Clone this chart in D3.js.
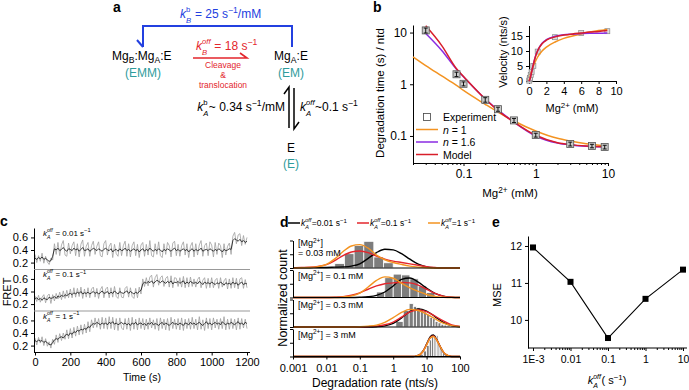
<!DOCTYPE html>
<html><head><meta charset="utf-8">
<script src="https://cdn.jsdelivr.net/npm/d3@7"></script>
<style>
body{margin:0;background:#fff;}
svg{font-family:"Liberation Sans",Arial,Helvetica,sans-serif;}
text{white-space:pre;}
</style></head><body>
<svg id="fig" width="689" height="390"></svg>
<script>
// ================= DATA =================
// Panel b: degradation time vs Mg
const bMg      = [0.03,0.08,0.1,0.2,0.3,0.5,1,3,6,9];
const bTime    = [11,1.56,1.02,0.5,0.33,0.2,0.104,0.07,0.064,0.061];
const bTimeErr = [1.2,0.15,0.09,0.05,0.03,0.018,0.009,0.006,0.005,0.005];
const bCurveMg = [0.02,0.03,0.05,0.08,0.1,0.2,0.3,0.5,1,2,3,5,10];
const bN1      = [3.4,2.3,1.45,0.95,0.76,0.41,0.29,0.195,0.125,0.09,0.08,0.071,0.064];
const bN16     = [null,9.6,4.5,1.95,1.4,0.52,0.32,0.185,0.1,0.073,0.067,0.063,0.061];
const bModel   = [null,13.5,5.6,2.0,1.42,0.52,0.31,0.185,0.103,0.074,0.068,0.064,0.062];
const bXTicks  = [0.1,1,10];
const bYTicks  = [0.1,1,10];
// inset
const insMg    = [0.03,0.08,0.1,0.2,0.3,0.5,1,3,6,9];
const insVel   = [0.1,0.6,1,2,3,5,9.8,14.6,16,16.6];
const insCurveMg = [0,0.1,0.25,0.5,0.75,1,1.5,2,3,4,5,6,7,8,9];
const insN1    = [0,1.3,3,5,6.6,8,10,11.3,13,14.2,15,15.7,16.3,16.8,17.2];
const insN16   = [0,0.6,2.4,5.6,8.3,10.2,12.6,13.8,14.9,15.4,15.6,15.8,15.9,15.9,16.0];
const insModel = [0,0.5,2.2,5.5,8.2,10.1,12.4,13.6,14.7,15.3,15.7,16.0,16.3,16.5,16.8];
const insXTicks = [0,2,4,6,8,10];
const insYTicks = [0,5,10,15];

// Panel c: FRET traces (10 s sampling, 0..1200 s)
const cTicks = [0,200,400,600,800,1000,1200];
const cYTicks = [0.2,0.4,0.6];
const cLabels = ['0.01','0.1','1'];
const cGray1 = [0.33,0.20,0.31,0.22,0.35,0.19,0.30,0.21,0.17,0.27, 0.24,0.50,0.33,0.52,0.31,0.48,0.55,0.32,0.30,0.51, 0.34,0.47,0.53,0.31,0.50,0.29,0.49,0.56,0.30,0.46, 0.52,0.30,0.47,0.54,0.33,0.46,0.53,0.31,0.29,0.50, 0.55,0.32,0.46,0.51,0.28,0.49,0.34,0.30,0.52,0.31, 0.47,0.54,0.30,0.50,0.29,0.47,0.53,0.31,0.49,0.28, 0.48,0.52,0.30,0.49,0.32,0.55,0.31,0.29,0.50,0.33, 0.53,0.31,0.28,0.50,0.33,0.52,0.47,0.29,0.51,0.54, 0.31,0.49,0.30,0.47,0.53,0.32,0.50,0.28,0.46,0.52, 0.29,0.50,0.32,0.48,0.55,0.30,0.47,0.51,0.31,0.53, 0.48,0.29,0.52,0.33,0.51,0.47,0.28,0.50,0.32,0.46, 0.51,0.33,0.62,0.68,0.50,0.64,0.66,0.47,0.63,0.49, 0.60];
const cBlack1 = [0.27,0.25,0.28,0.26,0.29,0.25,0.27,0.24,0.22,0.23, 0.30,0.42,0.40,0.43,0.39,0.41,0.44,0.40,0.38,0.42, 0.41,0.39,0.43,0.40,0.42,0.38,0.41,0.44,0.39,0.40, 0.42,0.38,0.40,0.43,0.41,0.39,0.42,0.40,0.38,0.41, 0.43,0.40,0.39,0.42,0.37,0.40,0.41,0.38,0.42,0.39, 0.40,0.43,0.39,0.41,0.38,0.40,0.42,0.39,0.41,0.37, 0.40,0.42,0.38,0.41,0.39,0.43,0.40,0.38,0.41,0.39, 0.42,0.40,0.37,0.41,0.39,0.42,0.40,0.38,0.41,0.43, 0.39,0.41,0.38,0.40,0.42,0.39,0.41,0.37,0.40,0.42, 0.38,0.41,0.39,0.40,0.43,0.38,0.40,0.41,0.39,0.42, 0.40,0.38,0.41,0.39,0.42,0.40,0.37,0.41,0.39,0.40, 0.42,0.41,0.55,0.58,0.56,0.54,0.57,0.53,0.55,0.52, 0.54];
const cGray2 = [0.33,0.24,0.34,0.23,0.31,0.35,0.22,0.33,0.36,0.21, 0.35,0.25,0.37,0.28,0.39,0.27,0.41,0.29,0.42,0.30, 0.44,0.30,0.46,0.31,0.45,0.32,0.47,0.29,0.44,0.31, 0.46,0.30,0.44,0.47,0.31,0.45,0.29,0.43,0.48,0.30, 0.44,0.47,0.30,0.46,0.31,0.48,0.32,0.29,0.46,0.31, 0.30,0.45,0.48,0.31,0.46,0.32,0.29,0.45,0.30,0.47, 0.36,0.60,0.48,0.62,0.49,0.63,0.66,0.47,0.62,0.67, 0.50,0.62,0.65,0.48,0.61,0.64,0.47,0.65,0.46,0.62, 0.61,0.48,0.62,0.47,0.64,0.46,0.62,0.47,0.63,0.48, 0.60,0.47,0.59,0.63,0.46,0.58,0.62,0.45,0.61,0.46, 0.62,0.46,0.58,0.61,0.45,0.62,0.47,0.57,0.61,0.44, 0.60,0.45,0.62,0.46,0.61,0.44,0.60,0.62,0.45,0.59, 0.46];
const cBlack2 = [0.28,0.30,0.27,0.29,0.26,0.30,0.28,0.27,0.31,0.29, 0.30,0.32,0.29,0.33,0.31,0.34,0.32,0.35,0.33,0.36, 0.37,0.35,0.38,0.36,0.39,0.37,0.40,0.36,0.38,0.37, 0.39,0.36,0.38,0.40,0.37,0.39,0.36,0.38,0.41,0.37, 0.38,0.40,0.36,0.39,0.37,0.41,0.38,0.36,0.40,0.38, 0.37,0.39,0.41,0.37,0.40,0.38,0.36,0.39,0.37,0.40, 0.42,0.52,0.55,0.53,0.56,0.54,0.57,0.53,0.55,0.58, 0.56,0.54,0.57,0.55,0.53,0.56,0.54,0.57,0.52,0.55, 0.54,0.56,0.53,0.55,0.57,0.52,0.55,0.53,0.56,0.54, 0.53,0.55,0.52,0.56,0.54,0.51,0.55,0.53,0.54,0.52, 0.55,0.53,0.51,0.54,0.52,0.55,0.53,0.50,0.54,0.52, 0.53,0.51,0.55,0.52,0.54,0.50,0.53,0.55,0.51,0.53, 0.52];
const cGray3 = [0.32,0.21,0.33,0.24,0.34,0.20,0.31,0.19,0.26,0.16, 0.30,0.22,0.37,0.25,0.39,0.28,0.40,0.30,0.45,0.31, 0.47,0.32,0.49,0.35,0.51,0.37,0.53,0.38,0.54,0.40, 0.58,0.42,0.61,0.48,0.64,0.49,0.63,0.46,0.65,0.47, 0.64,0.46,0.66,0.47,0.65,0.45,0.63,0.44,0.64,0.48, 0.45,0.63,0.46,0.64,0.44,0.65,0.46,0.62,0.45,0.64, 0.47,0.63,0.45,0.62,0.46,0.64,0.48,0.61,0.46,0.63, 0.44,0.64,0.47,0.62,0.45,0.63,0.44,0.65,0.47,0.62, 0.46,0.63,0.45,0.64,0.44,0.62,0.47,0.63,0.46,0.65, 0.47,0.62,0.45,0.66,0.46,0.61,0.44,0.64,0.47,0.63, 0.45,0.64,0.48,0.62,0.46,0.63,0.47,0.66,0.45,0.62, 0.46,0.63,0.47,0.62,0.45,0.64,0.46,0.63,0.48,0.62, 0.47];
const cBlack3 = [0.28,0.26,0.29,0.27,0.28,0.25,0.27,0.24,0.22,0.21, 0.25,0.29,0.31,0.30,0.33,0.34,0.32,0.36,0.38,0.36, 0.40,0.38,0.42,0.41,0.44,0.43,0.46,0.45,0.47,0.46, 0.50,0.49,0.53,0.55,0.54,0.57,0.55,0.53,0.56,0.54, 0.56,0.53,0.57,0.55,0.58,0.54,0.56,0.53,0.55,0.57, 0.54,0.56,0.53,0.55,0.52,0.56,0.54,0.57,0.53,0.55, 0.56,0.53,0.55,0.52,0.56,0.54,0.57,0.53,0.55,0.54, 0.52,0.55,0.57,0.53,0.56,0.54,0.52,0.55,0.57,0.54, 0.55,0.53,0.56,0.54,0.52,0.56,0.55,0.53,0.57,0.54, 0.56,0.53,0.55,0.57,0.54,0.52,0.55,0.58,0.54,0.56, 0.53,0.55,0.57,0.54,0.56,0.53,0.58,0.55,0.53,0.56, 0.54,0.57,0.55,0.53,0.56,0.58,0.54,0.56,0.53,0.57, 0.55];

// Panel d: histograms + fitted distributions
const dXTicks = [0.001,0.01,0.1,1,10,100];
const dXTickLabels = ['0.001','0.01','0.1','1','10','100'];
const dMgLabels = ['0.03','0.1','0.3','3'];
const dLegend = ['0.01','0.1','1'];
const dGrid = [0.001,0.00178,0.00316,0.00562,0.01,0.0178,0.0316,0.0562,0.1,0.178,0.316,0.562,1,1.78,3.16,5.62,10,17.8,31.6,56.2,100];
const dGrid4 = [0.001,1,3.98,5.01,6.31,7.94,10,12.6,15.8,20,25.1,31.6,39.8,50.1,63.1,100];
const dBlack1  = [0.01,0.01,0.01,0.02,0.02,0.03,0.04,0.07,0.15,0.35,0.56,0.68,0.66,0.52,0.32,0.14,0.04,0.01,0,0,0];
const dRed1    = [0.01,0.02,0.03,0.06,0.12,0.27,0.45,0.58,0.62,0.56,0.43,0.32,0.25,0.2,0.15,0.1,0.05,0.02,0,0,0];
const dOrange1 = [0,0.01,0.02,0.05,0.13,0.33,0.6,0.8,0.85,0.72,0.47,0.3,0.2,0.13,0.07,0.03,0.01,0,0,0,0];
const dBlack2  = [0,0,0,0,0,0,0,0,0.01,0.03,0.08,0.2,0.42,0.66,0.71,0.56,0.34,0.15,0.05,0.01,0];
const dRed2    = [0,0,0,0,0,0.01,0.03,0.08,0.17,0.3,0.42,0.5,0.53,0.55,0.53,0.45,0.3,0.15,0.05,0.01,0];
const dOrange2 = [0,0,0,0,0,0,0.02,0.06,0.16,0.38,0.62,0.75,0.7,0.52,0.35,0.22,0.11,0.04,0.01,0,0];
const dBlack3  = [0,0,0,0,0,0,0,0,0,0,0.01,0.04,0.13,0.33,0.56,0.66,0.58,0.38,0.17,0.05,0.01];
const dRed3    = [0,0,0,0,0,0,0,0,0,0.01,0.03,0.08,0.18,0.36,0.55,0.62,0.56,0.4,0.22,0.08,0.02];
const dOrange3 = [0,0,0,0,0,0,0,0,0.01,0.03,0.07,0.17,0.34,0.53,0.64,0.6,0.47,0.3,0.14,0.05,0.01];
const dBlack4  = [0,0,0,0.02,0.07,0.21,0.45,0.7,0.78,0.62,0.38,0.16,0.05,0.01,0,0];
const dRed4    = [0,0,0,0.02,0.07,0.2,0.43,0.67,0.75,0.61,0.38,0.17,0.06,0.01,0,0];
const dOrange4 = [0,0,0,0.02,0.07,0.2,0.42,0.66,0.73,0.6,0.38,0.17,0.06,0.01,0,0];
const dEdges1 = [0.0178,0.0347,0.0676,0.132,0.263,0.513,1.0];
const dHist1  = [0.16,0.52,0.82,0.97,0.4,0.19];
const dEdges2 = [0.32,0.56,1,1.78,3.16,5.62,10,17.8];
const dHist2  = [0.2,0.72,0.85,0.82,0.68,0.42,0.18];
const dEdges3 = [1.2,2,3,4,5,6.5,8,10,12.5,15,18,22,27,33,40,50,60];
const dHist3  = [0.2,0.6,0.85,0.75,0.7,0.6,0.55,0.45,0.35,0.3,0.2,0.15,0.1,0.07,0.04,0.02];
const dEdges4 = [6,8,10,12,14,16,18,20,22,24,27,30,35,40,45];
const dHist4  = [0.08,0.2,0.4,0.6,0.72,0.76,0.78,0.76,0.5,0.35,0.22,0.12,0.06,0.03];

// Panel e: MSE
const eK = [0.001,0.01,0.1,1,10];
const eMSE = [11.96,11.03,9.51,10.57,11.36];
const eXLabels = ['1E-3','0.01','0.1','1','10'];
const eYTicks = [10,11,12];

// ================= HELPERS =================
const FONT='"Liberation Sans", Arial, Helvetica, sans-serif';
const svg=d3.select('#fig');
const C={blue:'#2340e0',red:'#e3262d',teal:'#2f9c9c',orange:'#f39321',purple:'#8a2be2',model:'#d81e2a'};

function rich(g,x,y,parts,o){
  o=o||{};const size=o.size||11,color=o.color||'#000';
  const grp=g.append('g').attr('fill',color);
  let cx=0;
  parts.forEach(p=>{
    if(typeof p==='string')p={t:p};
    if(p.stack){
      const a=grp.append('text').attr('x',cx).attr('y',-size*0.5).attr('font-size',size*0.64).attr('font-style',p.supI?'italic':null).text(p.stack[0]);
      const b=grp.append('text').attr('x',cx).attr('y',size*0.38).attr('font-size',size*0.64).attr('font-style','italic').text(p.stack[1]);
      cx+=Math.max(a.node().getComputedTextLength(),b.node().getComputedTextLength())+0.5;
    }else{
      const fs=(p.sup||p.sub)?size*0.72:size;
      const dy=p.sup?-size*0.38:p.sub?size*0.25:0;
      const t=grp.append('text').attr('x',cx).attr('y',dy).attr('font-size',fs).attr('font-style',p.i?'italic':null).text(p.t);
      cx+=t.node().getComputedTextLength();
    }
  });
  const off=o.anchor==='middle'?-cx/2:o.anchor==='end'?-cx:0;
  grp.attr('transform',`translate(${x+off},${y})`);
  return cx;
}
function txt(g,x,y,s,o){
  o=o||{};
  return g.append('text').attr('x',x).attr('y',y).attr('font-size',o.size||11)
    .attr('fill',o.color||'#000').attr('text-anchor',o.anchor||'start')
    .attr('font-weight',o.bold?'bold':null).attr('font-style',o.italic?'italic':null)
    .attr('transform',o.rotate?`rotate(${o.rotate},${x},${y})`:null).text(s);
}
function styleAxis(sel,fs){
  sel.attr('font-family',FONT).attr('font-size',fs);
  sel.select('.domain').attr('stroke','#000').attr('stroke-width',1);
  sel.selectAll('.tick line').attr('stroke','#000');
  sel.selectAll('.tick text').attr('fill','#000');
}
function minorLog(lo,hi){const r=[];for(let e=Math.floor(Math.log10(lo));e<=Math.ceil(Math.log10(hi));e++){for(let m=2;m<=9;m++){const v=m*Math.pow(10,e);if(v>=lo&&v<=hi)r.push(v);}}return r;}
const kOff=(sub)=>[{t:'k',i:true},{stack:['off',sub],supI:true}];

// ================= PANEL A =================
const ga=svg.append('g');
txt(ga,113,12,'a',{size:14,bold:true});
ga.append('path').attr('d','M143,47 L143,26 L292,26 L292,47').attr('fill','none').attr('stroke',C.blue).attr('stroke-width',2);
ga.append('path').attr('d','M137,40 L143,47').attr('stroke',C.blue).attr('stroke-width',2);
rich(ga,180,18,[{t:'k',i:true},{stack:['b','B']},' = 25 s',{t:'\u22121',sup:true},'/mM'],{size:12,color:C.blue});
rich(ga,196,50,[{t:'k',i:true},{stack:['off','B'],supI:true},' = 18 s',{t:'\u22121',sup:true}],{size:12,color:C.red});
ga.append('path').attr('d','M193,58 L247,58 L240,53').attr('fill','none').attr('stroke',C.red).attr('stroke-width',1.6);
txt(ga,223,68,'Cleavage',{size:8.5,color:C.red,anchor:'middle'});
txt(ga,223,78,'&',{size:8.5,color:C.red,anchor:'middle'});
txt(ga,223,88,'translocation',{size:8.5,color:C.red,anchor:'middle'});
rich(ga,112,60,['Mg',{t:'B',sub:true},':Mg',{t:'A',sub:true},':E'],{size:12});
txt(ga,143,77,'(EMM)',{size:12,color:C.teal,anchor:'middle'});
rich(ga,291,60,['Mg',{t:'A',sub:true},':E'],{size:12,anchor:'middle'});
txt(ga,291,77,'(EM)',{size:12,color:C.teal,anchor:'middle'});
ga.append('path').attr('d','M284,94 L289,87 L289,128').attr('fill','none').attr('stroke','#000').attr('stroke-width',1.5);
ga.append('path').attr('d','M294,88 L294,129 L299,122').attr('fill','none').attr('stroke','#000').attr('stroke-width',1.5);
rich(ga,285,111,[{t:'k',i:true},{stack:['b','A']},'~ 0.34 s',{t:'\u22121',sup:true},'/mM'],{size:12,anchor:'end'});
rich(ga,300,111,[{t:'k',i:true},{stack:['off','A'],supI:true},'~0.1 s',{t:'\u22121',sup:true}],{size:12});
txt(ga,291,152,'E',{size:12,anchor:'middle'});
txt(ga,291,168,'(E)',{size:12,color:C.teal,anchor:'middle'});

// ================= PANEL B =================
const gb=svg.append('g');
txt(gb,373,12,'b',{size:14,bold:true});
const xb=d3.scaleLog().domain([0.02,10]).range([413,608]);
const yb=d3.scaleLog().domain([0.03,14]).range([163,25]);
const axBx=gb.append('g').attr('transform','translate(0,163)').call(d3.axisBottom(xb).tickValues(bXTicks).tickFormat(d=>String(d)).tickSize(3).tickSizeOuter(0));
styleAxis(axBx,12);
gb.append('g').attr('transform','translate(0,163)').call(d3.axisBottom(xb).tickValues(minorLog(0.02,10)).tickFormat('').tickSize(2)).call(s=>{s.select('.domain').remove();s.selectAll('line').attr('stroke','#000');});
const axBy=gb.append('g').attr('transform','translate(413,0)').call(d3.axisLeft(yb).tickValues(bYTicks).tickFormat(d=>String(d)).tickSize(3).tickSizeOuter(0));
styleAxis(axBy,12);
txt(gb,384,93,'Degradation time (s) / ntd',{size:11.5,anchor:'middle',rotate:-90});
rich(gb,510,197,['Mg',{t:'2+',sup:true},' (mM)'],{size:11.5,anchor:'middle'});
const lineB=(arr)=>d3.line().defined((d,i)=>arr[i]!=null).x((d,i)=>xb(bCurveMg[i])).y((d,i)=>yb(arr[i])).curve(d3.curveMonotoneX)(bCurveMg);
gb.append('path').attr('d',lineB(bN1)).attr('fill','none').attr('stroke',C.orange).attr('stroke-width',1.5);
gb.append('path').attr('d',lineB(bN16)).attr('fill','none').attr('stroke',C.purple).attr('stroke-width',1.5);
gb.append('path').attr('d',lineB(bModel)).attr('fill','none').attr('stroke',C.model).attr('stroke-width',1.5);
bMg.forEach((m,i)=>{
  const x=xb(m),y=yb(bTime[i]);
  gb.append('rect').attr('x',x-3.5).attr('y',y-3.5).attr('width',7).attr('height',7).attr('fill','#c9c9c9').attr('stroke','#555').attr('stroke-width',0.8);
  const y0=yb(bTime[i]+bTimeErr[i]),y1=yb(Math.max(bTime[i]-bTimeErr[i],0.001));
  gb.append('path').attr('d',`M${x},${y0}V${y1}M${x-2},${y0}H${x+2}M${x-2},${y1}H${x+2}`).attr('stroke','#000').attr('stroke-width',0.9);
});
// legend
gb.append('rect').attr('x',423.5).attr('y',113.5).attr('width',7).attr('height',7).attr('fill','#fff').attr('stroke','#444').attr('stroke-width',0.8);
txt(gb,443,121,'Experiment',{size:10.5});
[[C.orange,129.5,'1'],[C.purple,142,'1.6'],[C.model,154.5,null]].forEach(([c,y,n])=>{
  gb.append('line').attr('x1',416).attr('x2',438).attr('y1',y).attr('y2',y).attr('stroke',c).attr('stroke-width',1.5);
  if(n)rich(gb,443,y+4,[{t:'n',i:true},' = '+n],{size:10.5});else txt(gb,443,y+4,'Model',{size:10.5});
});
// inset
const xi=d3.scaleLinear().domain([0,10]).range([529,616]);
const yi=d3.scaleLinear().domain([0,18.5]).range([81,25.5]);
const axIx=gb.append('g').attr('transform','translate(0,81)').call(d3.axisBottom(xi).tickValues(insXTicks).tickSize(3).tickSizeOuter(0));
styleAxis(axIx,11);
const axIy=gb.append('g').attr('transform','translate(529,0)').call(d3.axisLeft(yi).tickValues(insYTicks).tickSize(3).tickSizeOuter(0));
styleAxis(axIy,11);
txt(gb,507,52,'Velocity (nts/s)',{size:11,anchor:'middle',rotate:-90});
rich(gb,572,112,['Mg',{t:'2+',sup:true},' (mM)'],{size:11,anchor:'middle'});
const lineI=(arr)=>d3.line().x((d,i)=>xi(insCurveMg[i])).y((d,i)=>yi(arr[i])).curve(d3.curveMonotoneX)(insCurveMg);
insMg.forEach((m,i)=>{
  gb.append('rect').attr('x',xi(m)-2.5).attr('y',yi(insVel[i])-2.5).attr('width',5).attr('height',5).attr('fill','#ddd').attr('stroke','#888').attr('stroke-width',0.7);
});
gb.append('path').attr('d',lineI(insN1)).attr('fill','none').attr('stroke',C.orange).attr('stroke-width',1.5);
gb.append('path').attr('d',lineI(insN16)).attr('fill','none').attr('stroke',C.purple).attr('stroke-width',1.5);
gb.append('path').attr('d',lineI(insModel)).attr('fill','none').attr('stroke',C.model).attr('stroke-width',1.5);

// ================= PANEL C =================
const gc=svg.append('g');
txt(gc,0,226,'c',{size:14,bold:true});
const xc=d3.scaleLinear().domain([0,1200]).range([35,247]);
const cTime=d3.range(0,1201,10);
const cTops=[228,269.5,311], cH=41.5;
const cGrays=[cGray1,cGray2,cGray3], cBlacks=[cBlack1,cBlack2,cBlack3];
cTops.forEach((top,k)=>{
  const yc=d3.scaleLinear().domain([0.09,0.75]).range([top+cH,top]);
  const ln=(arr)=>d3.line().x((d,i)=>xc(cTime[i])).y((d,i)=>yc(arr[i]))(cTime);
  gc.append('path').attr('d',ln(cGrays[k])).attr('fill','none').attr('stroke','#a0a0a0').attr('stroke-width',0.8);
  gc.append('path').attr('d',ln(cBlacks[k])).attr('fill','none').attr('stroke','#111').attr('stroke-width',0.8);
  const ay=gc.append('g').attr('transform','translate(34,0)').call(d3.axisLeft(yc).tickValues(cYTicks).tickFormat(d3.format('.1f')).tickSize(3).tickSizeOuter(0));
  styleAxis(ay,11);
  if(k<2)gc.append('line').attr('x1',34).attr('x2',250).attr('y1',top+cH).attr('y2',top+cH).attr('stroke','#999').attr('stroke-width',1);
  rich(gc,43,top+7.5,kOff('A').concat([' = '+cLabels[k]+' s',{t:'\u22121',sup:true}]),{size:8});
});
const axCx=gc.append('g').attr('transform','translate(0,352.5)').call(d3.axisBottom(xc).tickValues(cTicks).tickFormat(d=>String(d)).tickSize(3).tickPadding(3).tickSizeOuter(0));
styleAxis(axCx,11);
axCx.select('.domain').attr('d','M34,0H250');
txt(gc,11,292,'FRET',{size:11,anchor:'middle',rotate:-90});
txt(gc,142,381,'Time (s)',{size:10.5,anchor:'middle'});

// ================= PANEL D =================
const gd=svg.append('g');
txt(gd,280,227,'d',{size:14,bold:true});
const xd=d3.scaleLog().domain([0.001,100]).range([293,460]);
// legend
[['#000',288,dLegend[0]],[C.red,357,dLegend[1]],[C.orange,428,dLegend[2]]].forEach(([c,x,v])=>{
  gd.append('line').attr('x1',x).attr('x2',x+12).attr('y1',223).attr('y2',223).attr('stroke',c).attr('stroke-width',1.5);
  rich(gd,x+13,226,kOff('A').concat(['='+v+' s',{t:'\u22121',sup:true}]),{size:8.5});
});
const dBase=[268,297.5,327,356.5];
const dCurves=[[dGrid,dBlack1,dRed1,dOrange1],[dGrid,dBlack2,dRed2,dOrange2],[dGrid,dBlack3,dRed3,dOrange3],[dGrid4,dBlack4,dRed4,dOrange4]];
const dBars=[[dEdges1,dHist1],[dEdges2,dHist2],[dEdges3,dHist3],[dEdges4,dHist4]];
dBase.forEach((base,k)=>{
  const yd=d3.scaleLinear().domain([0,1]).range([base,base-27.5]);
  const [edges,h]=dBars[k];
  h.forEach((v,i)=>{
    gd.append('rect').attr('x',xd(edges[i])).attr('width',xd(edges[i+1])-xd(edges[i])).attr('y',yd(v)).attr('height',base-yd(v))
      .attr('fill','#7d7d7d').attr('stroke','#fff').attr('stroke-width',0.8);
  });
  const [grid,bl,rd,or]=dCurves[k];
  const ln=(arr)=>d3.line().x((d,i)=>xd(grid[i])).y((d,i)=>yd(arr[i])).curve(d3.curveMonotoneX)(grid);
  gd.append('path').attr('d',ln(bl)).attr('fill','none').attr('stroke','#000').attr('stroke-width',1.4);
  gd.append('path').attr('d',ln(rd)).attr('fill','none').attr('stroke',C.red).attr('stroke-width',1.4);
  gd.append('path').attr('d',ln(or)).attr('fill','none').attr('stroke',C.orange).attr('stroke-width',1.4);
  const ay=gd.append('g').attr('transform','translate(293,0)').call(d3.axisLeft(yd).tickValues([0,0.5,1]).tickFormat('').tickSize(3).tickSizeOuter(0));
  styleAxis(ay,10);
  gd.append('line').attr('x1',293).attr('x2',460).attr('y1',base).attr('y2',base).attr('stroke','#000').attr('stroke-width',1);
  if(k===0){
    rich(gd,298,246,['[Mg',{t:'2+',sup:true},']'],{size:9});
    txt(gd,298,256,'= 0.03 mM',{size:9});
  }else{
    rich(gd,298,base-19,['[Mg',{t:'2+',sup:true},'] = '+dMgLabels[k]+' mM'],{size:9});
  }
});
const axDx=gd.append('g').attr('transform','translate(0,356.5)').call(d3.axisBottom(xd).tickValues(dXTicks).tickFormat((d,i)=>dXTickLabels[i]).tickSize(3).tickPadding(5).tickSizeOuter(0));
styleAxis(axDx,11);
txt(gd,375,387,'Degradation rate (nts/s)',{size:12,anchor:'middle'});
txt(gd,287,298,'Normalized count',{size:12.5,anchor:'middle',rotate:-90});

// ================= PANEL E =================
const ge=svg.append('g');
txt(ge,492,227,'e',{size:14,bold:true});
const xe=d3.scaleLog().domain([0.001,10]).range([533,683]);
const ye=d3.scaleLinear().domain([9.24,12.27]).range([348,236]);
const axEx=ge.append('g').attr('transform','translate(0,348)').call(d3.axisBottom(xe).tickValues(eK).tickFormat((d,i)=>eXLabels[i]).tickSize(3).tickPadding(5).tickSizeOuter(0));
styleAxis(axEx,10.5);
axEx.select('.domain').attr('d','M528,0H687');
ge.append('g').attr('transform','translate(0,348)').call(d3.axisBottom(xe).tickValues(minorLog(0.001,10)).tickFormat('').tickSize(2)).call(s=>{s.select('.domain').remove();s.selectAll('line').attr('stroke','#000');});
const axEy=ge.append('g').attr('transform','translate(528,0)').call(d3.axisLeft(ye).tickValues(eYTicks).tickFormat(d=>String(d)).tickSize(3).tickSizeOuter(0));
styleAxis(axEy,10.5);
txt(ge,501,295,'MSE',{size:11,anchor:'middle',rotate:-90});
rich(ge,607,384,kOff('A').concat(['( s',{t:'\u22121',sup:true},')']),{size:11,anchor:'middle'});
ge.append('path').attr('d',d3.line().x((d,i)=>xe(eK[i])).y((d,i)=>ye(eMSE[i]))(eK)).attr('fill','none').attr('stroke','#000').attr('stroke-width',1.1);
eK.forEach((k,i)=>ge.append('rect').attr('x',xe(k)-3).attr('y',ye(eMSE[i])-3).attr('width',6).attr('height',6).attr('fill','#000'));
</script></body></html>
